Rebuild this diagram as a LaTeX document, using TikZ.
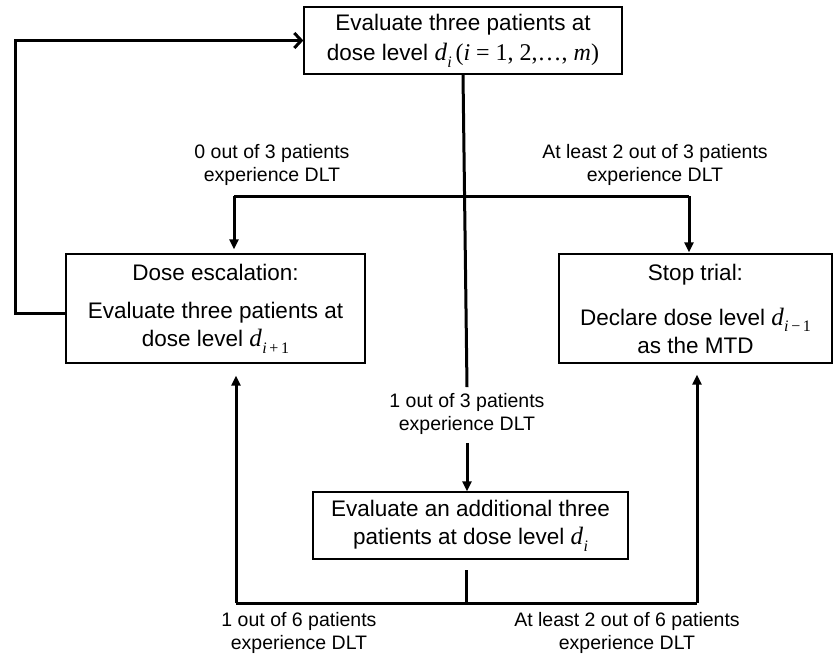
\documentclass[tikz,border=0pt]{standalone}
\usepackage{fontspec}
\setmainfont{Liberation Sans}
\newfontfamily\tms{Liberation Serif}
\usetikzlibrary{arrows.meta}
\newcommand\dsub[1]{{\tms\itshape\fontsize{25}{28}\selectfont d}\kern0.3pt\raisebox{-0.3em}{\fontsize{16}{16}\selectfont\tms #1}}
\begin{document}
\begin{tikzpicture}[x=1pt,y=-1pt,
  box/.style={draw,line width=1.3pt,inner sep=0pt,align=center,font=\fontsize{22.5}{28}\selectfont},
  lab/.style={inner sep=0pt,align=center,font=\fontsize{19.5}{23}\selectfont},
  conn/.style={line width=3pt},
  arr/.style={conn,-{Triangle[length=10pt,width=9pt]}},
  openarr/.style={conn,-{Straight Barb[length=7pt,width=15pt]}}
]
\useasboundingbox (0,0) rectangle (833,658);
\node[box,minimum width=318pt,minimum height=67pt] (top) at (463,40.5)
  {Evaluate three patients at\\[2pt]dose level \dsub{\textit{i}}\,{\tms\fontsize{24}{28}\selectfont(\textit{i} = 1, 2,…, \textit{m})}};
\node[box,minimum width=299pt,minimum height=109pt] (left) at (215.5,308.5)
  {Dose escalation:\\[10pt]Evaluate three patients at\\dose level \dsub{\textit{i}\,+\,1}};
\node[box,minimum width=273pt,minimum height=109pt] (right) at (695.5,308.5)
  {Stop trial:\\[17pt]Declare dose level \dsub{\textit{i}\,−\,1}\\as the MTD};
\node[box,minimum width=315pt,minimum height=67pt] (bot) at (470.5,525.5)
  {Evaluate an additional three\\patients at dose level \dsub{\textit{i}}};
\node[lab] (l03) at (272,165) {0 out of 3 patients\\experience DLT};
\node[lab] (l23) at (655,165) {At least 2 out of 3 patients\\experience DLT};
\node[lab] (l13) at (467,414) {1 out of 3 patients\\experience DLT};
\node[lab] (l16) at (299,633) {1 out of 6 patients\\experience DLT};
\node[lab] (l26) at (627,633) {At least 2 out of 6 patients\\experience DLT};
\coordinate (jL) at (234,196);
\coordinate (jR) at (689,196);
\coordinate (bL) at (236,603);
\coordinate (bR) at (697,603);
\coordinate (bj) at (466,603);
\coordinate (bs) at (466,570);
\coordinate (fb) at (15,313);
% main vertical
\draw[conn] (top.south) -- ([yshift=6pt]l13.north);
\draw[arr] ([yshift=-8pt]l13.south) -- (bot.north -| l13.south);
% top branch
\draw[conn] (jL) -- (jR);
\draw[arr,shorten >=4pt] (jL) -- (left.north -| jL);
\draw[arr,shorten >=1pt] (jR) -- (right.north -| jR);
% bottom branch
\draw[conn] (bs) -- (bj);
\draw[conn] (bL) -- (bR);
\draw[arr,shorten >=12pt] (bL) -- (left.south -| bL);
\draw[arr,shorten >=11pt] (bR) -- (right.south -| bR);
% feedback loop
\draw[openarr] (left.west |- fb) -- (fb) |- (top.west);
\end{tikzpicture}
\end{document}
